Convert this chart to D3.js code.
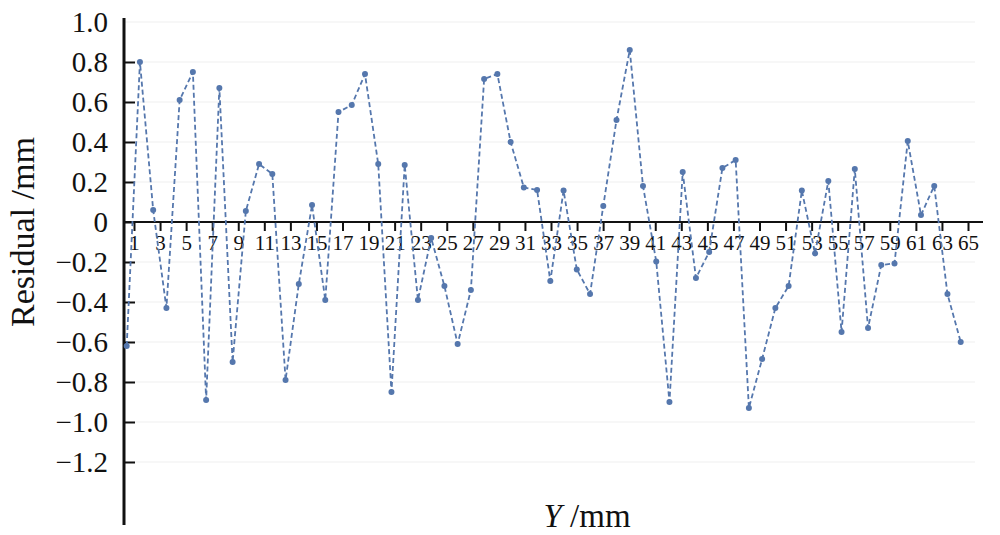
<!DOCTYPE html>
<html>
<head>
<meta charset="utf-8">
<script src="https://cdn.jsdelivr.net/npm/d3@7"></script>
<style>
  html, body { margin: 0; padding: 0; background: #fff; }
  svg text { font-family: "Liberation Serif", "DejaVu Serif", serif; fill: #111; }
</style>
</head>
<body>
<svg id="chart" width="1000" height="535"></svg>
<script>
// sample number along the measured line
const samples = d3.range(1, 65);
// residual of each sample, mm
const residuals = [
  -0.62, 0.80, 0.06, -0.43, 0.61, 0.75, -0.89, 0.67, -0.70, 0.055,
  0.29, 0.24, -0.79, -0.31, 0.085, -0.39, 0.55, 0.585, 0.74, 0.29,
  -0.85, 0.285, -0.39, -0.08, -0.32, -0.61, -0.34, 0.715, 0.74, 0.40,
  0.173, 0.16, -0.295, 0.157, -0.237, -0.36, 0.08, 0.51, 0.86, 0.18,
  -0.197, -0.90, 0.25, -0.28, -0.15, 0.27, 0.31, -0.93, -0.685, -0.43,
  -0.32, 0.157, -0.157, 0.205, -0.55, 0.265, -0.53, -0.215, -0.207, 0.405,
  0.035, 0.18, -0.36, -0.60
];
// tick labels
const xTickValues = d3.range(1, 66, 2);
const yTickValues = [-1.2, -1.0, -0.8, -0.6, -0.4, -0.2, 0, 0.2, 0.4, 0.6, 0.8, 1.0];

const color = '#5577ad';
const svg = d3.select('#chart');

const axisX = 124;
const y = d3.scaleLinear().domain([-1.5, 1.0]).range([522, 22]);
const xTick = d3.scaleLinear().domain([1, 65]).range([134, 968]);
const xPt = d3.scaleLinear().domain([1, 64]).range([126.7, 960.7]);

// grid
svg.append('g')
  .selectAll('line')
  .data(yTickValues)
  .join('line')
  .attr('x1', axisX)
  .attr('x2', 975)
  .attr('y1', d => y(d))
  .attr('y2', d => y(d))
  .attr('stroke', '#efefef')
  .attr('stroke-width', 1);

// y axis
const fmt = d => (d === 0 ? '0' : d3.format('.1f')(d));
const gy = svg.append('g')
  .attr('transform', `translate(${axisX},0)`)
  .call(d3.axisLeft(y).tickValues(yTickValues).tickFormat(fmt).tickSize(-11).tickPadding(16));
gy.select('.domain').remove();
gy.selectAll('.tick line').attr('stroke', '#111').attr('stroke-width', 2)
  .filter(d => d === 1.0).remove();
gy.selectAll('.tick text').attr('font-size', 29).attr('font-family', '"Liberation Serif", serif').attr('fill', '#111');
svg.append('line')
  .attr('x1', axisX).attr('x2', axisX)
  .attr('y1', y(1.02)).attr('y2', y(-1.515))
  .attr('stroke', '#111').attr('stroke-width', 3);

// x axis at zero
const gx = svg.append('g')
  .attr('transform', `translate(0,${y(0)})`)
  .call(d3.axisBottom(xTick).tickValues(xTickValues).tickFormat(d3.format('d')).tickSize(9).tickPadding(4));
gx.select('.domain').remove();
gx.selectAll('.tick line').attr('stroke', '#111').attr('stroke-width', 2);
gx.selectAll('.tick text').attr('font-size', 21).attr('font-family', '"Liberation Serif", serif').attr('fill', '#111');
svg.append('line')
  .attr('x1', axisX).attr('x2', 983)
  .attr('y1', y(0)).attr('y2', y(0))
  .attr('stroke', '#111').attr('stroke-width', 2);

// series
const line = d3.line().x((d, i) => xPt(samples[i])).y(d => y(d));
svg.append('path')
  .datum(residuals)
  .attr('fill', 'none')
  .attr('stroke', color)
  .attr('stroke-width', 1.8)
  .attr('stroke-dasharray', '5,3')
  .attr('d', line);

svg.append('g')
  .selectAll('circle')
  .data(residuals)
  .join('circle')
  .attr('cx', (d, i) => xPt(samples[i]))
  .attr('cy', d => y(d))
  .attr('r', 3)
  .attr('fill', color);

// axis titles
svg.append('text')
  .attr('transform', 'translate(34,232) rotate(-90)')
  .attr('text-anchor', 'middle')
  .attr('font-size', 34)
  .text('Residual /mm');

const xt = svg.append('text')
  .attr('x', 587)
  .attr('y', 527)
  .attr('text-anchor', 'middle')
  .attr('font-size', 33);
xt.append('tspan').attr('font-style', 'italic').text('Y');
xt.append('tspan').text(' /mm');
</script>
</body>
</html>
